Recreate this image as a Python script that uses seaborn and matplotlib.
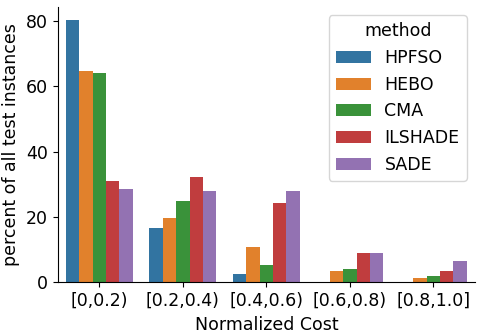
import pandas as pd
import numpy as np
import matplotlib.pyplot as plt
import seaborn as sns

bins = ["[0,0.2)", "[0.2,0.4)", "[0.4,0.6)", "[0.6,0.8)", "[0.8,1.0]"]
methods = ["HPFSO", "HEBO", "CMA", "ILSHADE", "SADE"]

hpfso = [80.4, 16.6, 2.5, 0.0, 0.0]
hebo = [64.8, 19.7, 10.8, 3.4, 1.2]
cma = [64.2, 24.9, 5.2, 4.0, 1.8]
ilshade = [31.0, 32.3, 24.3, 8.9, 3.4]
sade = [28.6, 28.0, 28.0, 8.9, 6.5]

values = {"HPFSO": hpfso, "HEBO": hebo, "CMA": cma, "ILSHADE": ilshade, "SADE": sade}
rows = []
for m in methods:
    for b, v in zip(bins, values[m]):
        rows.append({"Normalized Cost": b, "percent": v, "method": m})
df = pd.DataFrame(rows)

plt.rcParams["font.family"] = ["DejaVu Sans"]
fig, ax = plt.subplots(figsize=(4.8, 3.36), dpi=100)
sns.barplot(data=df, x="Normalized Cost", y="percent", hue="method",
            hue_order=methods, order=bins, palette="tab10", saturation=0.75, ax=ax)
sns.despine(ax=ax)
ax.set_ylabel("percent of all test instances", fontsize=12.5)
ax.set_xlabel("Normalized Cost", fontsize=12.5)
ax.tick_params(labelsize=12.5)
ax.set_yticks([0, 20, 40, 60, 80])
leg = ax.legend(title="method", loc="upper right", fontsize=12.5, title_fontsize=12.5)
fig.subplots_adjust(left=0.12, right=0.99, top=0.98, bottom=0.16)
fig.savefig("out.png")
